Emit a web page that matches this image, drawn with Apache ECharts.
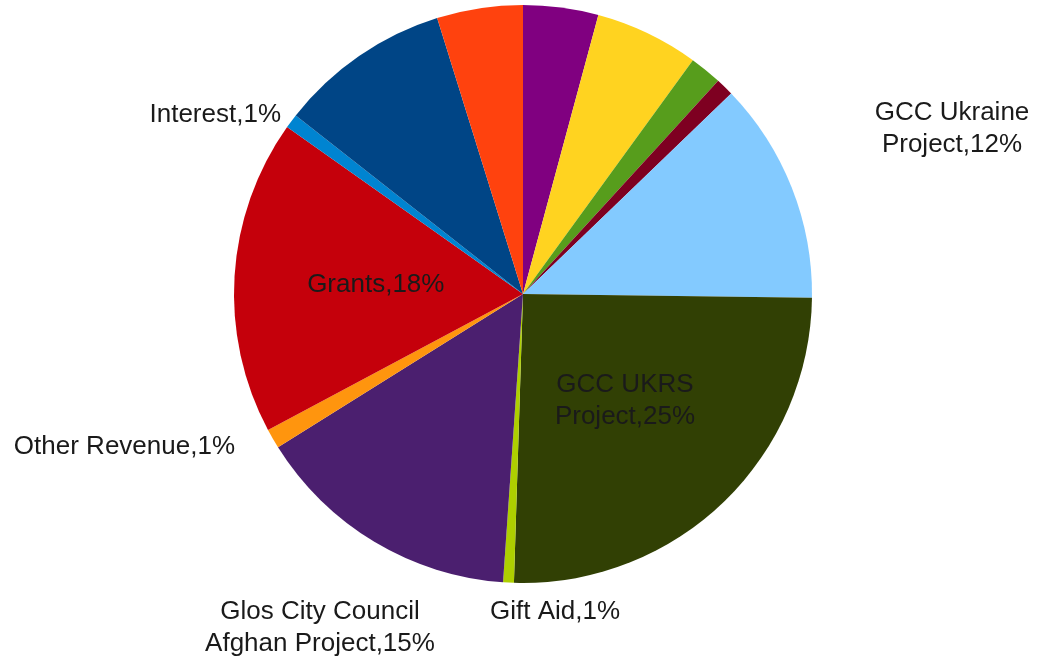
<!DOCTYPE html>
<html><head><meta charset="utf-8">
<script src="https://cdn.jsdelivr.net/npm/echarts@6/dist/echarts.min.js"></script>
<style>html,body{margin:0;padding:0;background:#fff}#c{width:1037px;height:664px}</style>
</head><body><div id="c"></div>
<script>
// ---- data (clockwise from 12 o'clock) ----
const categories = ['Unlabelled A', 'Unlabelled B', 'Unlabelled C', 'Unlabelled D',
  'GCC Ukraine Project', 'GCC UKRS Project', 'Gift Aid', 'Glos City Council Afghan Project',
  'Other Revenue', 'Grants', 'Interest', 'Unlabelled E', 'Unlabelled F'];
const values = [4.2, 5.8, 1.8, 1.0, 12.4, 25.3, 0.6, 15.0, 1.1, 17.6, 0.8, 9.6, 4.8];
const labelledSlices = ['GCC Ukraine Project', 'GCC UKRS Project', 'Gift Aid',
  'Glos City Council Afghan Project', 'Other Revenue', 'Grants', 'Interest'];

// ---- styles ----
const colors = ['#800080','#ffd320','#579d1c','#7e0021','#83caff','#314004','#aecf00',
  '#4b1f6f','#ff950e','#c5000b','#0084d1','#004586','#ff420e'];
const insideLabels = ['GCC UKRS Project', 'Grants'];
const wrapText = {
  'GCC Ukraine Project': 'GCC Ukraine\nProject',
  'GCC UKRS Project': 'GCC UKRS\nProject',
  'Glos City Council Afghan Project': 'Glos City Council\nAfghan Project'
};
const outsidePlacement = {
  'Interest': {x: 281, y: 115, align: 'right'},
  'Other Revenue': {x: 235, y: 447, align: 'right'},
  'Gift Aid': {x: 490, y: 612, align: 'left'},
  'Glos City Council Afghan Project': {x: 320, y: 628, align: 'center'},
  'GCC Ukraine Project': {x: 952, y: 129, align: 'center'}
};

const data = categories.map((name, i) => {
  const shown = labelledSlices.includes(name);
  const inside = insideLabels.includes(name);
  return {
    name, value: values[i],
    itemStyle: {color: colors[i]},
    label: {show: shown, position: inside ? 'inside' : 'outside'},
    labelLine: {show: false}
  };
});

const chart = echarts.init(document.getElementById('c'), null, {renderer: 'canvas'});
chart.setOption({
  backgroundColor: '#ffffff',
  animation: false,
  series: [{
    type: 'pie',
    center: [523, 294],
    radius: [0, 289],
    startAngle: 90,
    clockwise: true,
    avoidLabelOverlap: false,
    itemStyle: {borderWidth: 0},
    emphasis: {disabled: true},
    label: {
      fontFamily: 'Liberation Sans, Arial, sans-serif',
      fontSize: 26,
      lineHeight: 32,
      color: '#1a1a1a',
      align: 'center',
      formatter: p => (wrapText[p.name] || p.name) + ',' + Math.round(p.percent) + '%'
    },
    labelLine: {show: false},
    labelLayout: function (params) {
      const name = categories[params.dataIndex];
      const pl = outsidePlacement[name];
      if (!pl) return {};
      return {x: pl.x, y: pl.y, align: pl.align, verticalAlign: 'middle'};
    },
    data
  }]
});
</script></body></html>
